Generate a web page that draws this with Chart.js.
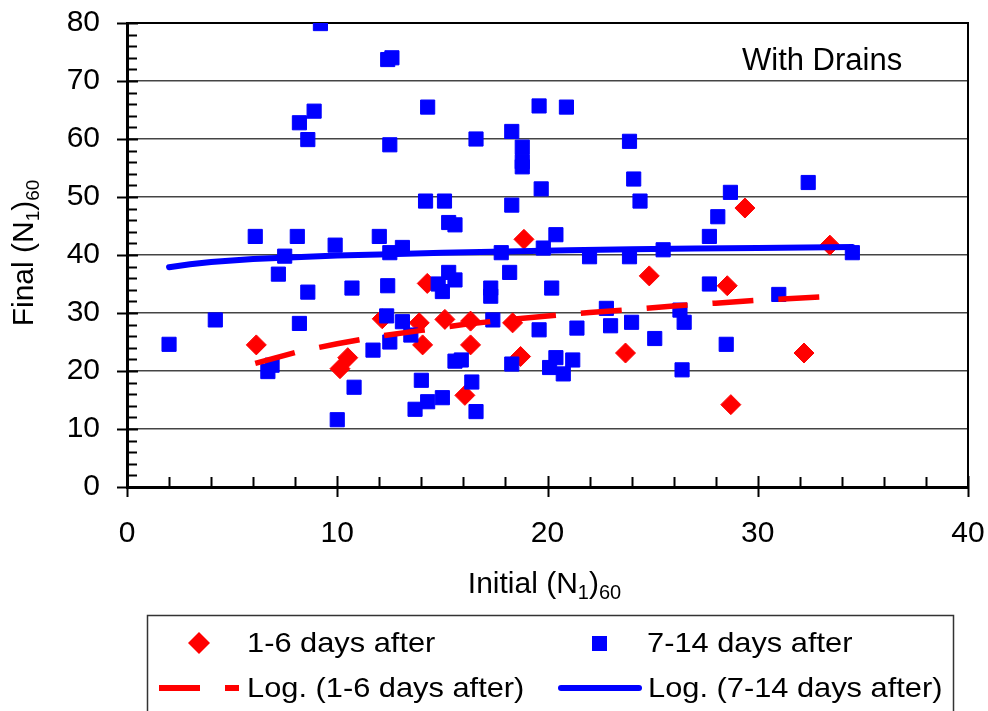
<!DOCTYPE html>
<html>
<head>
<meta charset="utf-8">
<script src="https://cdn.jsdelivr.net/npm/chart.js@4.4.0/dist/chart.umd.min.js"></script>
<style>
  html, body { margin: 0; padding: 0; background: #fff; }
</style>
</head>
<body>
<canvas id="drains" width="988" height="711"></canvas>
<script>
// 1-6 days after
var earlyX = [6.15, 10.13, 10.5, 12.14, 13.9, 14.06, 14.28, 15.12, 16.34, 16.34, 16.07,
  18.34, 18.72, 18.88, 23.71, 24.84, 28.55, 28.72, 29.39, 32.2, 33.43];
var earlyY = [24.5, 20.4, 22.3, 29.0, 28.3, 24.5, 35.1, 28.9, 28.6, 24.5, 15.8,
  28.3, 22.5, 42.7, 23.1, 36.4, 34.7, 14.2, 48.1, 23.1, 41.7];

// 7-14 days after
var lateX = [2.0, 4.2, 6.1, 6.7, 6.9, 7.2, 7.5, 8.1, 8.2, 8.2, 8.6, 8.6, 8.9, 9.2, 9.9,
  10.0, 10.7, 10.8, 11.7, 12.0, 12.4, 12.35, 12.4, 12.6, 12.5, 12.5, 12.5, 13.1, 13.1,
  13.5, 13.7, 14.0, 14.2, 14.3, 14.3, 14.8, 15.0, 15.0, 15.1, 15.3, 15.3, 15.6, 15.6,
  15.6, 15.9, 16.4, 16.6, 16.6, 17.3, 17.3, 17.4, 17.8, 18.2, 18.3, 18.3, 18.3, 18.8,
  18.8, 18.8, 19.6, 19.7, 19.8, 19.6, 20.1, 20.2, 20.4, 20.4, 20.75, 20.9, 21.2, 21.4,
  22.0, 22.8, 23.0, 23.9, 23.9, 24.0, 24.1, 24.4, 25.1, 25.5, 26.3, 26.5, 26.4, 27.7,
  27.7, 28.1, 28.5, 28.7, 31.0, 32.4, 34.5];
var lateY = [24.6, 28.8, 43.2, 19.9, 21.0, 36.7, 39.8, 43.2, 28.2, 62.8, 59.9, 33.6, 64.8, 79.9, 41.7,
  11.6, 34.3, 17.2, 23.6, 43.2, 34.7, 29.5, 73.7, 74.0, 59.0, 40.4, 25.0, 41.3, 28.5,
  26.2, 13.4, 18.4, 49.3, 65.5, 14.7, 35.0, 15.4, 33.7, 49.3, 45.6, 37.0, 45.2, 35.7,
  21.7, 21.9, 18.1, 60.0, 13.0, 34.3, 32.9, 28.8, 40.4, 37.0, 61.3, 48.6, 21.2, 58.6,
  56.1, 55.2, 65.7, 51.4, 41.2, 27.1, 20.6, 34.3, 43.5, 22.3, 19.5, 65.5, 21.9, 27.4,
  39.7, 30.8, 27.8, 59.6, 39.7, 28.4, 53.1, 49.3, 25.6, 40.9, 30.5, 28.4, 20.2, 43.2,
  35.0, 46.6, 24.6, 50.8, 33.2, 52.5, 40.4];

// logarithmic trend lines
var earlyTrendX = [6.1, 8.1, 10, 12, 14, 16, 18, 20, 22, 24, 26, 28, 30, 33.1];
var earlyTrendY = [21.3, 23.3, 24.7, 26.0, 27.0, 28.0, 28.8, 29.5, 30.1, 30.6, 31.2, 31.7, 32.2, 32.8];
var lateTrendX = [2.0, 3, 4, 6, 8, 10, 12, 15, 18, 21, 24, 27, 30, 34.5];
var lateTrendY = [37.9, 38.4, 38.8, 39.3, 39.6, 39.9, 40.1, 40.4, 40.6, 40.8, 41.0, 41.1, 41.2, 41.4];

var xRange = [0, 40];
var yRange = [0, 80];

var FONT = '"Liberation Sans", Arial, sans-serif';
var RED = '#ff0000';
var BLUE = '#0000ff';

function pts(xs, ys) {
  return xs.map(function (x, i) { return { x: x, y: ys[i] }; });
}

// centred text with subscript pieces: [[text, isSub], ...]
function drawRich(ctx, parts, size, subSize, subDrop) {
  var total = 0;
  parts.forEach(function (p) {
    ctx.font = (p[1] ? subSize : size) + 'px ' + FONT;
    total += ctx.measureText(p[0]).width;
  });
  var x = -total / 2;
  parts.forEach(function (p) {
    ctx.font = (p[1] ? subSize : size) + 'px ' + FONT;
    ctx.fillText(p[0], x, p[1] ? subDrop : 0);
    x += ctx.measureText(p[0]).width;
  });
}

// legend text is a little wider than the font
function wideText(ctx, text, x, y, sx) {
  ctx.save();
  ctx.translate(x, y);
  ctx.scale(sx, 1);
  ctx.fillText(text, 0, 0);
  ctx.restore();
}

function noEdgePadding(s) {
  s.paddingLeft = 0; s.paddingRight = 0; s.paddingTop = 0; s.paddingBottom = 0;
}

var frame = {
  id: 'frame',
  beforeDatasetsDraw: function (chart) {
    var ctx = chart.ctx, a = chart.chartArea;
    var sx = chart.scales.x, sy = chart.scales.y;
    ctx.save();
    ctx.strokeStyle = '#000';
    ctx.lineWidth = 2;
    ctx.beginPath();
    ctx.moveTo(a.left, a.top);
    ctx.lineTo(a.right, a.top);
    ctx.lineTo(a.right, a.bottom);
    ctx.stroke();

    // crossing major ticks, inside minor ticks
    ctx.beginPath();
    for (var v = yRange[0]; v <= yRange[1]; v += 2) {
      var py = Math.round(sy.getPixelForValue(v)) + 0.5;
      if (v % 10 === 0) { ctx.moveTo(a.left - 10, py); ctx.lineTo(a.left + 11, py); }
      else { ctx.moveTo(a.left, py); ctx.lineTo(a.left + 10, py); }
    }
    for (var u = xRange[0]; u <= xRange[1]; u += 2) {
      var px = Math.round(sx.getPixelForValue(u)) + 0.5;
      if (u % 10 === 0) { ctx.moveTo(px, a.bottom - 11); ctx.lineTo(px, a.bottom + 10); }
      else { ctx.moveTo(px, a.bottom - 10); ctx.lineTo(px, a.bottom); }
    }
    ctx.stroke();
    ctx.restore();
  },
  afterDraw: function (chart) {
    var ctx = chart.ctx, a = chart.chartArea;
    var ds = chart.data.datasets;
    ctx.save();
    ctx.fillStyle = '#000';
    ctx.textBaseline = 'alphabetic';

    // panel label
    ctx.textAlign = 'left';
    ctx.font = '31px ' + FONT;
    ctx.fillText('With Drains', 742, 70);

    // axis titles
    ctx.save();
    ctx.translate((a.left + a.right) / 2 - 3, 593);
    drawRich(ctx, [['Initial (N', false], ['1', true], [')', false], ['60', true]], 30, 20, 6);
    ctx.restore();

    ctx.save();
    ctx.translate(33, (a.top + a.bottom) / 2 - 2);
    ctx.rotate(-Math.PI / 2);
    drawRich(ctx, [['Final (N', false], ['1', true], [')', false], ['60', true]], 30, 19, 6);
    ctx.restore();

    // legend box
    ctx.strokeStyle = '#333';
    ctx.lineWidth = 1.5;
    ctx.strokeRect(147.5, 615.5, 806, 110);

    // markers
    ctx.fillStyle = ds[0].backgroundColor;
    ctx.beginPath();
    ctx.moveTo(188, 643); ctx.lineTo(199, 632); ctx.lineTo(210, 643); ctx.lineTo(199, 654);
    ctx.closePath(); ctx.fill();
    ctx.fillStyle = ds[1].backgroundColor;
    ctx.fillRect(592, 636, 15, 15);

    // trend samples
    ctx.lineWidth = 6;
    ctx.strokeStyle = ds[2].borderColor;
    ctx.lineCap = 'butt';
    ctx.beginPath();
    ctx.moveTo(159, 688); ctx.lineTo(200, 688);
    ctx.moveTo(225, 688); ctx.lineTo(239, 688);
    ctx.stroke();
    ctx.strokeStyle = ds[3].borderColor;
    ctx.lineCap = 'round';
    ctx.beginPath();
    ctx.moveTo(561, 688); ctx.lineTo(639, 688);
    ctx.stroke();

    ctx.fillStyle = '#000';
    ctx.font = '28px ' + FONT;
    ctx.textBaseline = 'middle';
    wideText(ctx, ds[0].label, 247, 644, 1.1);
    wideText(ctx, ds[1].label, 647, 644, 1.1);
    wideText(ctx, ds[2].label, 247, 689, 1.1);
    wideText(ctx, ds[3].label, 648, 689, 1.1);
    ctx.restore();
  }
};

new Chart('drains', {
  type: 'scatter',
  data: {
    datasets: [
      {
        label: '1-6 days after',
        data: pts(earlyX, earlyY),
        pointStyle: 'rectRot',
        pointRadius: 10,
        pointHoverRadius: 10,
        backgroundColor: RED,
        borderColor: RED,
        borderWidth: 1,
        order: 4
      },
      {
        label: '7-14 days after',
        data: pts(lateX, lateY),
        pointStyle: 'rect',
        pointRadius: 10,
        pointHoverRadius: 10,
        backgroundColor: BLUE,
        borderColor: BLUE,
        borderWidth: 1,
        order: 3
      },
      {
        type: 'line',
        label: 'Log. (1-6 days after)',
        data: pts(earlyTrendX, earlyTrendY),
        borderColor: RED,
        borderWidth: 5.5,
        borderDash: [41, 25],
        borderCapStyle: 'butt',
        pointRadius: 0,
        tension: 0,
        fill: false,
        order: 1
      },
      {
        type: 'line',
        label: 'Log. (7-14 days after)',
        data: pts(lateTrendX, lateTrendY),
        borderColor: BLUE,
        borderWidth: 6,
        borderCapStyle: 'round',
        pointRadius: 0,
        tension: 0,
        fill: false,
        order: 2
      }
    ]
  },
  options: {
    responsive: false,
    animation: false,
    layout: { padding: { top: 23, right: 20, left: 0, bottom: 0 } },
    plugins: {
      legend: { display: false },
      tooltip: { enabled: false }
    },
    scales: {
      x: {
        type: 'linear',
        min: xRange[0],
        max: xRange[1],
        afterFit: function (s) { s.height = 224; noEdgePadding(s); },
        ticks: { stepSize: 10, padding: 29, color: '#000', font: { family: FONT, size: 30 } },
        grid: { display: false, drawTicks: false },
        border: { display: true, color: '#000', width: 3 }
      },
      y: {
        type: 'linear',
        min: yRange[0],
        max: yRange[1],
        afterFit: function (s) { s.width = 127; noEdgePadding(s); },
        ticks: { stepSize: 10, padding: 27, color: '#000', font: { family: FONT, size: 30 } },
        grid: { color: '#444', lineWidth: 1.5, drawTicks: false },
        border: { display: true, color: '#000', width: 3 }
      }
    }
  },
  plugins: [frame]
});
</script>
</body>
</html>
